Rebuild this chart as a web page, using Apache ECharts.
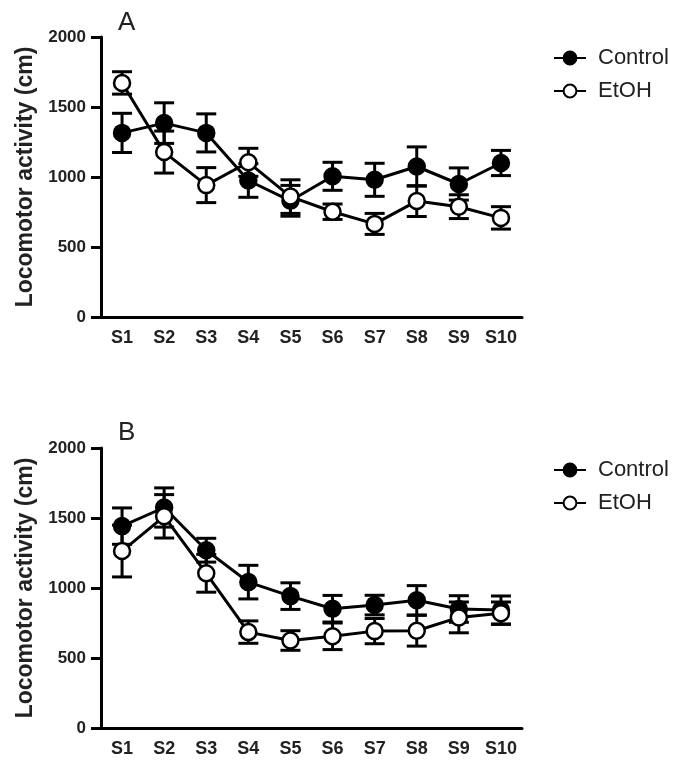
<!DOCTYPE html>
<html>
<head>
    <meta charset="utf-8">
    <script src="https://cdn.jsdelivr.net/npm/echarts@6/dist/echarts.min.js"></script>
</head>
<body style="margin:0;background:#fff;">
<div id="main" style="width: 675px;height:764px;"></div>
<script type="text/javascript">
    // sessions
    var sessions = ['S1', 'S2', 'S3', 'S4', 'S5', 'S6', 'S7', 'S8', 'S9', 'S10'];
    var yTicks = [0, 500, 1000, 1500, 2000];

    // panel A: mean and SEM
    var ctrlA = [1315, 1385, 1315, 975, 830, 1005, 980, 1075, 950, 1100];
    var ctrlA_err = [140, 145, 136, 120, 110, 100, 118, 140, 115, 90];
    var etohA = [1672, 1178, 942, 1105, 860, 752, 665, 828, 788, 708];
    var etohA_err = [80, 150, 125, 100, 120, 55, 75, 110, 85, 80];

    // panel B
    var ctrlB = [1442, 1575, 1270, 1042, 942, 852, 878, 912, 850, 843];
    var ctrlB_err = [130, 140, 85, 120, 95, 95, 70, 105, 95, 100];
    var etohB = [1264, 1512, 1105, 685, 625, 655, 692, 695, 790, 820];
    var etohB_err = [185, 155, 135, 80, 70, 95, 90, 110, 110, 80];

    var myChart = echarts.init(document.getElementById('main'));
    var FONT = 'Liberation Sans, Arial, sans-serif';

    function errData(mean, err) {
        return mean.map(function (v, i) { return [i, v - err[i], v + err[i]]; });
    }

    function errBar(params, api) {
        var lo = api.coord([api.value(0), api.value(1)]);
        var hi = api.coord([api.value(0), api.value(2)]);
        var w = 10;
        var st = {stroke: '#000', lineWidth: 3};
        return {
            type: 'group',
            children: [
                {type: 'line', shape: {x1: lo[0], y1: lo[1], x2: hi[0], y2: hi[1]}, style: st},
                {type: 'line', shape: {x1: lo[0] - w, y1: lo[1], x2: lo[0] + w, y2: lo[1]}, style: st},
                {type: 'line', shape: {x1: hi[0] - w, y1: hi[1], x2: hi[0] + w, y2: hi[1]}, style: st}
            ]
        };
    }

    function xAx(gi) {
        return {
            type: 'category', gridIndex: gi, data: sessions,
            axisLine: {lineStyle: {color: '#000', width: 3}},
            axisTick: {alignWithLabel: true, length: 8, lineStyle: {width: 3, color: '#000'}},
            axisLabel: {color: '#222', fontSize: 18, fontWeight: 'bold', fontFamily: FONT, margin: 12}
        };
    }
    function yAx(gi) {
        return {
            type: 'value', gridIndex: gi, min: 0, max: 2000, interval: 500,
            name: 'Locomotor activity (cm)', nameLocation: 'middle', nameGap: 64,
            nameTextStyle: {color: '#222', fontSize: 23, fontWeight: 'bold', fontFamily: FONT},
            splitLine: {show: false},
            axisLine: {show: true, lineStyle: {color: '#000', width: 3}},
            axisTick: {show: true, length: 10, lineStyle: {width: 3, color: '#000'}},
            axisLabel: {color: '#222', fontSize: 17, fontWeight: 'bold', fontFamily: FONT, margin: 15,
                formatter: function (v) { return yTicks.indexOf(v) >= 0 ? String(v) : ''; }}
        };
    }
    function lineS(name, data, gi, filled) {
        return {
            name: name, type: 'line', xAxisIndex: gi, yAxisIndex: gi, data: data, z: 3,
            symbol: 'circle', symbolSize: 16,
            lineStyle: {color: '#000', width: 3},
            itemStyle: {color: filled ? '#000' : '#fff', borderColor: '#000', borderWidth: 2.5},
            emphasis: {disabled: true}
        };
    }
    function errS(mean, err, gi) {
        return {
            type: 'custom', xAxisIndex: gi, yAxisIndex: gi, z: 2,
            renderItem: errBar, data: errData(mean, err), silent: true
        };
    }
    function legendAt(top) {
        return {
            data: ['Control', 'EtOH'], orient: 'vertical', left: 548, top: top,
            itemWidth: 32, itemHeight: 16, itemGap: 11,
            textStyle: {color: '#222', fontSize: 22, fontFamily: FONT, padding: [0, 0, 0, 7]}
        };
    }

    var option = {
        animation: false,
        title: [
            {text: 'A', left: 113, top: 5, textStyle: {fontSize: 26, fontWeight: 'normal', color: '#222', fontFamily: FONT}},
            {text: 'B', left: 113, top: 415, textStyle: {fontSize: 26, fontWeight: 'normal', color: '#222', fontFamily: FONT}}
        ],
        legend: [legendAt(42), legendAt(454)],
        grid: [
            {left: 101, top: 37, width: 421, height: 280},
            {left: 101, top: 448, width: 421, height: 280}
        ],
        xAxis: [xAx(0), xAx(1)],
        yAxis: [yAx(0), yAx(1)],
        series: [
            lineS('Control', ctrlA, 0, true),
            lineS('EtOH', etohA, 0, false),
            errS(ctrlA, ctrlA_err, 0),
            errS(etohA, etohA_err, 0),
            lineS('Control', ctrlB, 1, true),
            lineS('EtOH', etohB, 1, false),
            errS(ctrlB, ctrlB_err, 1),
            errS(etohB, etohB_err, 1)
        ]
    };
    myChart.setOption(option);
</script>
</body>
</html>
